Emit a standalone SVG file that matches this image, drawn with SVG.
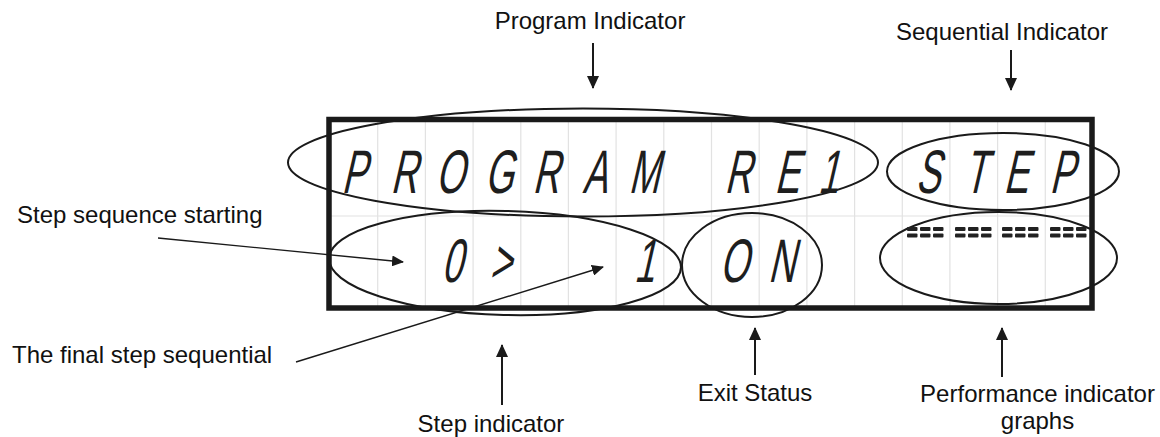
<svg xmlns="http://www.w3.org/2000/svg" width="1160" height="437" viewBox="0 0 1160 437">
<defs>
<style>
.lbl{font-family:"Liberation Sans",Arial,sans-serif;font-size:24px;fill:#111}
.lcd{font-family:"Liberation Sans",Arial,sans-serif;font-size:61.5px;fill:#1e1e1e;text-anchor:middle}
.grid{stroke:#e2e2e2;stroke-width:1.2}
.ell{fill:none;stroke:#1a1a1a;stroke-width:2}
.conn{stroke:#1a1a1a;fill:none}
.dash{fill:#222}
</style>
<marker id="ah" viewBox="0 0 13 12" refX="12" refY="6" markerWidth="13" markerHeight="12" markerUnits="userSpaceOnUse" orient="auto">
<path d="M0,0 L13,6 L0,12 z" fill="#1a1a1a"/>
</marker>
<marker id="ahs" viewBox="0 0 12 11" refX="11" refY="5.5" markerWidth="12" markerHeight="11" markerUnits="userSpaceOnUse" orient="auto">
<path d="M0,0 L12,5.5 L0,11 z" fill="#1a1a1a"/>
</marker>
</defs>
<rect width="1160" height="437" fill="#fff"/>

<g id="lcd-display">
<g class="grid">
<line x1="377.7" y1="119" x2="377.7" y2="308"/>
<line x1="425.4" y1="119" x2="425.4" y2="308"/>
<line x1="473.1" y1="119" x2="473.1" y2="308"/>
<line x1="520.8" y1="119" x2="520.8" y2="308"/>
<line x1="568.4" y1="119" x2="568.4" y2="308"/>
<line x1="616.1" y1="119" x2="616.1" y2="308"/>
<line x1="663.8" y1="119" x2="663.8" y2="308"/>
<line x1="711.5" y1="119" x2="711.5" y2="308"/>
<line x1="759.2" y1="119" x2="759.2" y2="308"/>
<line x1="806.9" y1="119" x2="806.9" y2="308"/>
<line x1="854.6" y1="119" x2="854.6" y2="308"/>
<line x1="902.3" y1="119" x2="902.3" y2="308"/>
<line x1="949.9" y1="119" x2="949.9" y2="308"/>
<line x1="997.6" y1="119" x2="997.6" y2="308"/>
<line x1="1045.3" y1="119" x2="1045.3" y2="308"/>
<line x1="329" y1="216" x2="1092" y2="216"/>
</g>
<rect x="329" y="119.5" width="763" height="188.5" fill="none" stroke="#1a1a1a" stroke-width="5.5"/>
</g>

<g id="program-indicator">
<ellipse class="ell" cx="583" cy="162.5" rx="295" ry="54"/>
<g transform="translate(0,193) skewX(-13)">
<text class="lcd" transform="scale(0.6,1)" x="589.2 672.5 749.2 830.8 909.2 990.8 1072.5 1150 1229.2 1310.8 1380" y="0">PROGRAM RE1</text>
</g>
</g>

<g id="sequential-indicator">
<ellipse class="ell" cx="1003" cy="171.5" rx="116" ry="38.5"/>
<g transform="translate(0,193) skewX(-13)">
<text class="lcd" transform="scale(0.6,1)" x="1545.8 1625 1692.5 1769.2" y="0">STEP</text>
</g>
</g>

<g id="step-indicator">
<ellipse class="ell" cx="505" cy="263" rx="176" ry="52" transform="rotate(1.5 505 263)"/>
<g transform="translate(0,282) skewX(-13)">
<text class="lcd" transform="scale(0.6,1)" x="752.5 791.7 833.3 950 1073.3" y="0">0 &gt; 1</text>
</g>
</g>

<g id="exit-status">
<ellipse class="ell" cx="752" cy="265" rx="70" ry="52"/>
<g transform="translate(0,282) skewX(-13)">
<text class="lcd" transform="scale(0.6,1)" x="1222.5 1301.7" y="0">ON</text>
</g>
</g>

<g id="performance-graphs">
<ellipse class="ell" cx="998.5" cy="258" rx="118.5" ry="46"/>
<g class="dash">
<rect x="907" y="227" width="10.5" height="4" rx="1"/><rect x="920" y="227" width="10.5" height="4" rx="1"/><rect x="933" y="227" width="10.5" height="4" rx="1"/>
<rect x="907" y="233.5" width="10.5" height="4" rx="1"/><rect x="920" y="233.5" width="10.5" height="4" rx="1"/><rect x="933" y="233.5" width="10.5" height="4" rx="1"/>
<rect x="955" y="227" width="10.5" height="4" rx="1"/><rect x="968" y="227" width="10.5" height="4" rx="1"/><rect x="981" y="227" width="10.5" height="4" rx="1"/>
<rect x="955" y="233.5" width="10.5" height="4" rx="1"/><rect x="968" y="233.5" width="10.5" height="4" rx="1"/><rect x="981" y="233.5" width="10.5" height="4" rx="1"/>
<rect x="1002" y="227" width="10.5" height="4" rx="1"/><rect x="1015" y="227" width="10.5" height="4" rx="1"/><rect x="1028" y="227" width="10.5" height="4" rx="1"/>
<rect x="1002" y="233.5" width="10.5" height="4" rx="1"/><rect x="1015" y="233.5" width="10.5" height="4" rx="1"/><rect x="1028" y="233.5" width="10.5" height="4" rx="1"/>
<rect x="1050" y="227" width="10.5" height="4" rx="1"/><rect x="1063" y="227" width="10.5" height="4" rx="1"/><rect x="1076" y="227" width="10.5" height="4" rx="1"/>
<rect x="1050" y="233.5" width="10.5" height="4" rx="1"/><rect x="1063" y="233.5" width="10.5" height="4" rx="1"/><rect x="1076" y="233.5" width="10.5" height="4" rx="1"/>
</g>
</g>

<g id="label-program"><text class="lbl" x="590" y="29" text-anchor="middle">Program Indicator</text></g>
<g id="label-sequential"><text class="lbl" x="1002" y="40" text-anchor="middle">Sequential Indicator</text></g>
<g id="label-step-start"><text class="lbl" x="17" y="223">Step sequence starting</text></g>
<g id="label-final-step"><text class="lbl" x="12" y="363">The final step sequential</text></g>
<g id="label-step-indicator"><text class="lbl" x="491" y="432" text-anchor="middle">Step indicator</text></g>
<g id="label-exit"><text class="lbl" x="755" y="401" text-anchor="middle">Exit Status</text></g>
<g id="label-performance"><text class="lbl" x="1037.5" y="402" text-anchor="middle">Performance indicator</text><text class="lbl" x="1037.5" y="429" text-anchor="middle">graphs</text></g>

<g id="connectors">
<line class="conn" stroke-width="2" x1="593" y1="43" x2="593" y2="88" marker-end="url(#ah)"/>
<line class="conn" stroke-width="2" x1="1011" y1="50" x2="1011" y2="90" marker-end="url(#ah)"/>
<line class="conn" stroke-width="2" x1="502" y1="405" x2="502" y2="345" marker-end="url(#ah)"/>
<line class="conn" stroke-width="2" x1="755" y1="375" x2="755" y2="328" marker-end="url(#ah)"/>
<line class="conn" stroke-width="2" x1="1002" y1="377" x2="1002" y2="328" marker-end="url(#ah)"/>
<line class="conn" stroke-width="1.4" x1="158" y1="238" x2="403" y2="262" marker-end="url(#ahs)"/>
<line class="conn" stroke-width="1.4" x1="296" y1="362" x2="603" y2="267" marker-end="url(#ahs)"/>
</g>
</svg>
